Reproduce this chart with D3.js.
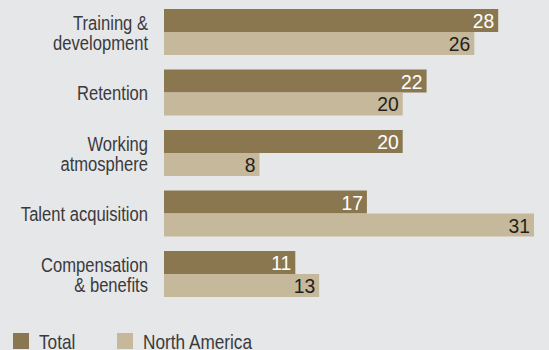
<!DOCTYPE html>
<html>
<head>
<meta charset="utf-8">
<script src="https://cdn.jsdelivr.net/npm/d3@7"></script>
<style>
  html, body { margin: 0; padding: 0; background: #e6e7e9; }
  svg { display: block; }
</style>
</head>
<body>
<svg id="chart" width="549" height="350"></svg>
<script>
// Categories (each split into display lines) and the two series
const categories = [
  ["Training &", "development"],
  ["Retention"],
  ["Working", "atmosphere"],
  ["Talent acquisition"],
  ["Compensation", "& benefits"]
];
const seriesNames = ["Total", "North America"];
const totalValues = [28, 22, 20, 17, 11];
const northAmericaValues = [26, 20, 8, 31, 13];

const colors = { "Total": "#8b774f", "North America": "#c6b89a" };
const labelColors = { "Total": "#ffffff", "North America": "#231f20" };
const textColor = "#3a3a3c";
const baseFont = "'Liberation Sans', Arial, Helvetica, sans-serif";
// horizontal squeeze for the condensed label face
const narrow = 0.79;

const svg = d3.select("#chart");
const keys = categories.map((c, i) => i);

const x = d3.scaleLinear().domain([0, 31]).range([164, 534]);
const y = d3.scaleBand().domain(keys).range([9, 297]).paddingInner(0.24).paddingOuter(0);
const ySub = d3.scaleBand().domain(seriesNames).range([0, y.bandwidth()]).padding(0);

const rows = keys.map(i => ({
  i,
  lines: categories[i],
  values: [
    { name: "Total", value: totalValues[i] },
    { name: "North America", value: northAmericaValues[i] }
  ]
}));

const group = svg.selectAll("g.row").data(rows).join("g")
  .attr("class", "row")
  .attr("transform", d => `translate(0,${y(d.i)})`);

group.selectAll("rect").data(d => d.values).join("rect")
  .attr("x", x(0))
  .attr("y", d => ySub(d.name))
  .attr("width", d => x(d.value) - x(0))
  .attr("height", ySub.bandwidth())
  .attr("fill", d => colors[d.name]);

group.selectAll("text.val").data(d => d.values).join("text")
  .attr("class", "val")
  .attr("transform", d => `translate(${x(d.value) - 4},${ySub(d.name) + ySub.bandwidth() / 2 + 7.5}) scale(0.92,1)`)
  .attr("text-anchor", "end")
  .attr("font-family", baseFont)
  .attr("font-size", 21)
  .attr("fill", d => labelColors[d.name])
  .text(d => d.value);

// Category labels, right-aligned and vertically centred on each group
const lineGap = 20;
group.append("text")
  .attr("transform", `translate(148,0) scale(${narrow},1)`)
  .attr("text-anchor", "end")
  .attr("font-family", baseFont)
  .attr("font-size", 21)
  .attr("fill", textColor)
  .each(function(d) {
    const mid = y.bandwidth() / 2 + 7.7 - (d.lines.length - 1) * lineGap / 2;
    d3.select(this).selectAll("tspan").data(d.lines).join("tspan")
      .attr("x", 0)
      .attr("y", (l, k) => mid + k * lineGap)
      .text(l => l);
  });

// Legend
const legendX = { "Total": 13, "North America": 117 };
const legend = svg.selectAll("g.legend").data(seriesNames).join("g")
  .attr("class", "legend")
  .attr("transform", d => `translate(${legendX[d]},333)`);
legend.append("rect")
  .attr("width", 16).attr("height", 16)
  .attr("fill", d => colors[d]);
legend.append("text")
  .attr("transform", `translate(26,16) scale(0.82,1)`)
  .attr("font-family", baseFont)
  .attr("font-size", 21)
  .attr("fill", textColor)
  .text(d => d);
</script>
</body>
</html>
